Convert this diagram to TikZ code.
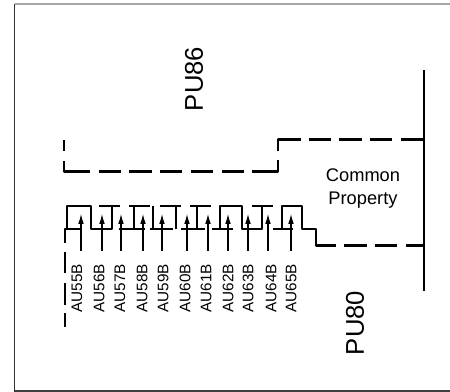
\documentclass[tikz,border=0pt]{standalone}
\usepackage{fontspec}
\setmainfont{Liberation Sans}
\usetikzlibrary{arrows.meta}
\tikzset{
	boundary/.style = {line width=1.3pt, line join=round},
	pointer/.style = {-{Latex[length=5.6pt,width=3.2pt]}, line width=0.6pt},
	unitlabel/.style = {rotate=90, font=\fontsize{8.7}{10}\selectfont, inner sep=0pt},
	bigpu/.style = {rotate=90, font=\fontsize{14.6}{17}\selectfont, inner sep=0pt},
	commonlabel/.style = {align=center, font=\fontsize{10.4}{12.6}\selectfont, inner sep=0pt}
}
\newcommand{\unitpointer}[3]{
   \node[unitlabel] (#3) at (#2,288.5) {#3};
   \coordinate (#3tail) at (#1,251);
   \coordinate (#3tip) at (#1,214);
   \draw[pointer] (#3tail) -- (#3tip);
}
\begin{document}
\begin{tikzpicture}[x=0.02cm, y=-0.02cm]
		\useasboundingbox (0,0) rectangle (450,392);

		% Frame
		\draw[line width=0.8pt, black!80] (14.5,392) -- (14.5,4);
		\draw[line width=0.6pt, black!35] (14.5,4) -- (450,4);
		\draw[line width=0.7pt, black!75] (14.5,391) -- (450,391);

		% Solid wall
		\draw[boundary] (424,70) -- (424,291);

		% Upper dashed line
		\draw[boundary] (64,140) -- (64,151);
		\draw[boundary] (64,161) -- (64,171.5) -- (90,171.5);
		\draw[boundary] (99,171.5) -- (121,171.5);
		\draw[boundary] (129,171.5) -- (152,171.5);
		\draw[boundary] (160,171.5) -- (182,171.5);
		\draw[boundary] (191,171.5) -- (213,171.5);
		\draw[boundary] (222,171.5) -- (244,171.5);
		\draw[boundary] (252,171.5) -- (278,171.5) -- (278,160);
		\draw[boundary] (278,151) -- (278,139.5) -- (301,139.5);
		\draw[boundary] (309,139.5) -- (331,139.5);
		\draw[boundary] (339,139.5) -- (362,139.5);
		\draw[boundary] (370,139.5) -- (392,139.5);
		\draw[boundary] (401,139.5) -- (424,139.5);

		% Left dashes
		\draw[boundary] (80,229) -- (65,229) -- (65,243);
		\draw[boundary] (65,252) -- (65,273);
		\draw[boundary] (65,283) -- (65,305);
		\draw[boundary] (65,313) -- (65,327);

		% Stepped line
		\draw[boundary] (67,229) -- (67,206) -- (91,206) -- (91,229) -- (112,229) -- (112,206);
		\draw[boundary] (99,206) -- (120,206);
		\draw[boundary] (119,229) -- (145,229);
		\draw[boundary] (134,229) -- (134,206);
		\draw[boundary] (129,206) -- (150,206);
		\draw[boundary] (153,206) -- (153,229);
		\draw[boundary] (150,229) -- (173,229);
		\draw[boundary] (176,229) -- (176,206);
		\draw[boundary] (160,206) -- (181,206);
		\draw[boundary] (181,229) -- (205,229);
		\draw[boundary] (197,229) -- (197,206);
		\draw[boundary] (190,206) -- (211,206);
		\draw[boundary] (212,229) -- (233,229);
		\draw[boundary] (220,229) -- (220,206) -- (242,206) -- (242,229) -- (262,229) -- (262,206);
		\draw[boundary] (252,206) -- (273,206);
		\draw[boundary] (273,229) -- (293,229);
		\draw[boundary] (282,229) -- (282,206) -- (302,206) -- (302,229) -- (316,229) -- (316,245.5) -- (336,245.5);

		% Lower dashes
		\draw[boundary] (344,245.5) -- (367,245.5);
		\draw[boundary] (375,245.5) -- (397,245.5);
		\draw[boundary] (406,245.5) -- (425,245.5);

		% Units
		\unitpointer{81}{77}{AU55B}
		\unitpointer{102}{99}{AU56B}
		\unitpointer{121}{120}{AU57B}
		\unitpointer{143}{142}{AU58B}
		\unitpointer{162}{163}{AU59B}
		\unitpointer{187}{185}{AU60B}
		\unitpointer{208}{206}{AU61B}
		\unitpointer{228}{228}{AU62B}
		\unitpointer{248}{248}{AU63B}
		\unitpointer{268}{271}{AU64B}
		\unitpointer{291}{291}{AU65B}

		% Labels
		\node[bigpu] (pu86) at (194,79) {PU86};
		\node[bigpu] (pu80) at (355,323) {PU80};
		\node[commonlabel] (common) at (363,188.5) {Common\\Property};
	\end{tikzpicture}
\end{document}
